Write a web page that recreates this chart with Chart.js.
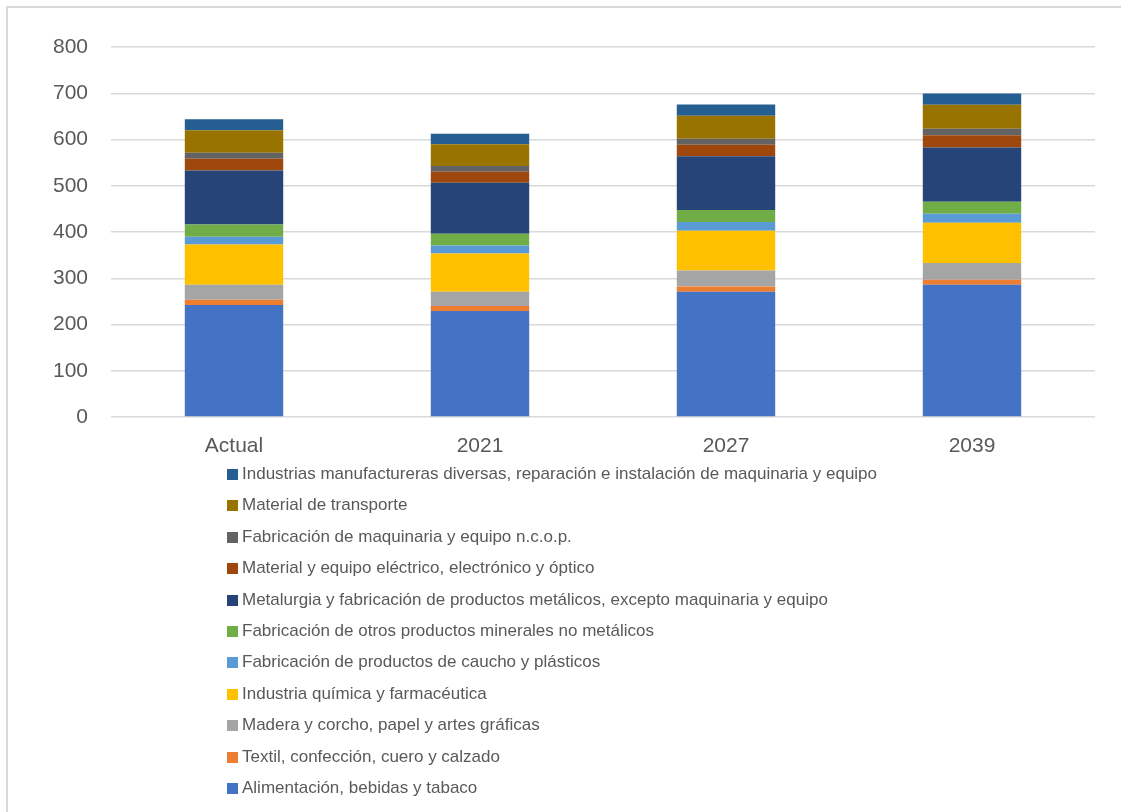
<!DOCTYPE html>
<html lang="es">
<head>
<meta charset="utf-8">
<title>Industria manufacturera por rama</title>
<script src="https://cdn.jsdelivr.net/npm/chart.js@4.4.1/dist/chart.umd.min.js"></script>
<style>
    html, body { margin: 0; padding: 0; background: #fff; }
    #wrap { position: relative; width: 1121px; height: 812px; overflow: hidden; }
    /* marco gris del área del gráfico */
    #marco { position: absolute; left: 6px; top: 6px; width: 1200px; height: 900px;
             border-left: 2px solid #d9d9d9; border-top: 2px solid #d9d9d9; }
    #chart { position: absolute; left: 0; top: 0; }
    #leyenda { position: absolute; left: 227px; top: 458px; margin: 0; padding: 0; list-style: none;
               font-family: "Liberation Sans", Arial, sans-serif; font-size: 17px; color: #595959; }
    #leyenda li { height: 31.4px; line-height: 31.4px; white-space: nowrap; }
    #leyenda span.box { display: inline-block; width: 11px; height: 11px; margin-right: 4px; vertical-align: -1px; }
</style>
</head>
<body>
<div id="wrap">
    <div id="marco"></div>
    <canvas id="chart" width="1121" height="812"></canvas>
    <ul id="leyenda"></ul>
</div>
<script>
// Categorías del eje X
const periodos = ['Actual', '2021', '2027', '2039'];

// Valores por rama (de abajo hacia arriba en la pila)
const alimentacion = [242, 229, 271, 286];
const textil       = [11.5, 11, 11, 11];
const madera       = [32.5, 31, 34.5, 36];
const quimica      = [87, 82.5, 86, 87];
const caucho       = [16.5, 17.5, 19, 19.5];
const minerales    = [26.5, 25, 26, 26];
const metalurgia   = [117, 110.5, 116.5, 117];
const electrico    = [25.5, 24, 24.5, 26.5];
const maquinaria   = [13, 12, 13, 14];
const transporte   = [48.5, 47, 50, 52];
const diversas     = [24, 23, 24, 24.5];

const nombres = [
    'Alimentación, bebidas y tabaco',
    'Textil, confección, cuero y calzado',
    'Madera y corcho, papel y artes gráficas',
    'Industria química y farmacéutica',
    'Fabricación de productos de caucho y plásticos',
    'Fabricación de otros productos minerales no metálicos',
    'Metalurgia y fabricación de productos metálicos, excepto maquinaria y equipo',
    'Material y equipo eléctrico, electrónico y óptico',
    'Fabricación de maquinaria y equipo n.c.o.p.',
    'Material de transporte',
    'Industrias manufactureras diversas, reparación e instalación de maquinaria y equipo'
];
const series = [alimentacion, textil, madera, quimica, caucho, minerales,
                metalurgia, electrico, maquinaria, transporte, diversas];
const colores = ['#4472C4', '#ED7D31', '#A5A5A5', '#FFC000', '#5B9BD5', '#70AD47',
                 '#264478', '#9E480E', '#636363', '#997300', '#255E91'];

const FUENTE = '"Liberation Sans", Arial, sans-serif';

const datasets = series.map((valores, i) => ({
    label: nombres[i],
    data: valores,
    backgroundColor: colores[i],
    borderWidth: 0,
    categoryPercentage: 1,
    barPercentage: 0.4
}));

const ctx = document.getElementById('chart').getContext('2d');
const grafico = new Chart(ctx, {
    type: 'bar',
    data: { labels: periodos, datasets: datasets },
    options: {
        responsive: false,
        animation: false,
        layout: { padding: { left: 11, top: 47, right: 26, bottom: 355 } },
        plugins: {
            legend: { display: false },
            tooltip: { enabled: false }
        },
        scales: {
            x: {
                stacked: true,
                grid: { display: false, drawTicks: false },
                border: { display: false },
                ticks: { color: '#595959', font: { family: FUENTE, size: 21 }, padding: 17 },
                afterFit: (scale) => { scale.height = 40; }
            },
            y: {
                stacked: true,
                min: 0,
                max: 800,
                grid: { color: '#d9d9d9', lineWidth: 1.5, drawTicks: false },
                border: { display: false },
                ticks: { stepSize: 100, color: '#595959', font: { family: FUENTE, size: 21 }, padding: 23 },
                afterFit: (scale) => { scale.width = 100; }
            }
        }
    }
});

// Leyenda vertical, de arriba (última serie) hacia abajo
const ul = document.getElementById('leyenda');
grafico.data.datasets.slice().reverse().forEach(ds => {
    const li = document.createElement('li');
    const box = document.createElement('span');
    box.className = 'box';
    box.style.background = ds.backgroundColor;
    li.appendChild(box);
    li.appendChild(document.createTextNode(ds.label));
    ul.appendChild(li);
});
</script>
</body>
</html>
